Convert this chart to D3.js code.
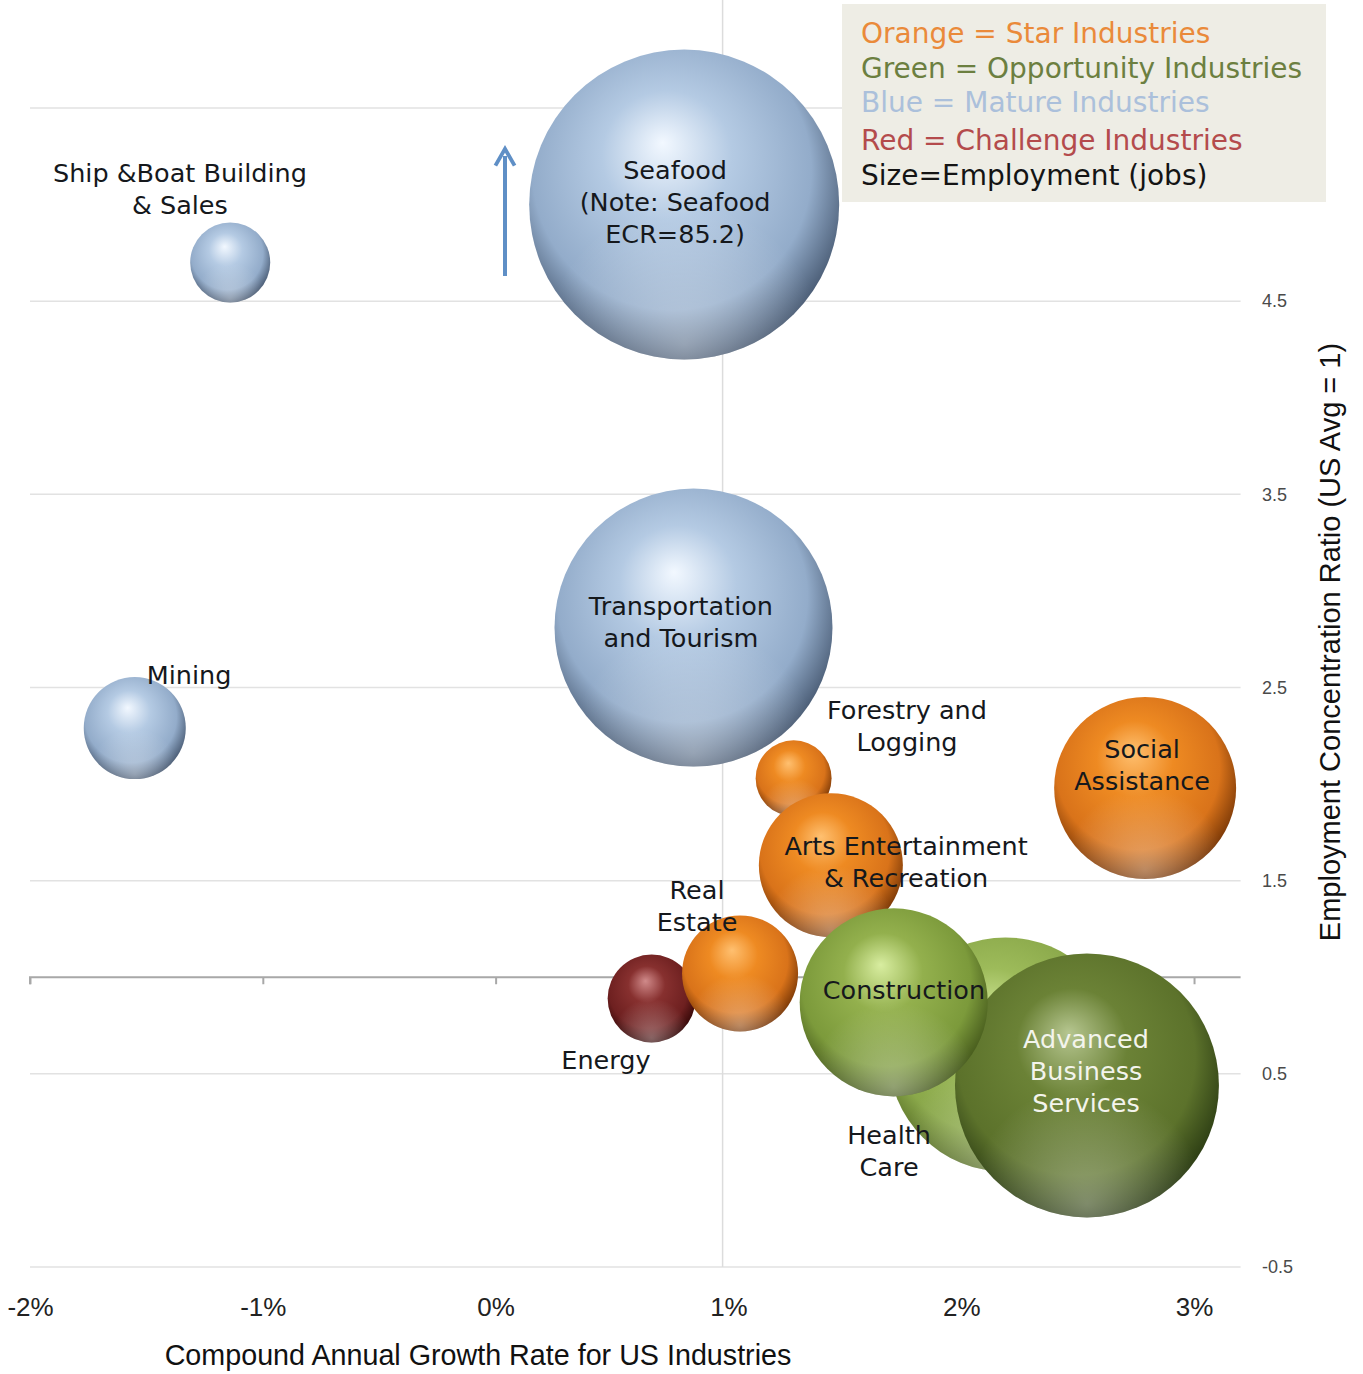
<!DOCTYPE html>
<html>
<head>
<meta charset="utf-8">
<script src="https://cdn.jsdelivr.net/npm/d3@7"></script>
<style>
  html, body { margin: 0; padding: 0; background: #ffffff; }
  svg { display: block; }
</style>
</head>
<body>
<svg id="chart" width="1363" height="1374"></svg>
<script>
// ---------------- DATA ----------------
const industries = ["Seafood", "Ship & Boat Building & Sales", "Mining", "Transportation and Tourism",
  "Forestry and Logging", "Arts Entertainment & Recreation", "Social Assistance", "Energy",
  "Real Estate", "Health Care", "Advanced Business Services", "Construction"];
const growthRate = [0.81, -1.14, -1.55, 0.85, 1.28, 1.44, 2.79, 0.67, 1.05, 2.19, 2.54, 1.71];   // CAGR %
const concentration = [5.0, 4.70, 2.29, 2.81, 2.03, 1.58, 1.98, 0.89, 1.02, 0.60, 0.44, 0.87];   // ECR (shown)
const employment = [24000, 1600, 2600, 19300, 1440, 5180, 8270, 1930, 3360, 13700, 17400, 8830]; // jobs
const group = ["mature", "mature", "mature", "mature", "star", "star", "star", "challenge",
  "star", "opportunityLight", "opportunityDark", "opportunity"];
const labelLines = [
  ["Seafood", "(Note: Seafood", "ECR=85.2)"],
  ["Ship &Boat Building", "& Sales"],
  ["Mining"],
  ["Transportation", "and Tourism"],
  ["Forestry and", "Logging"],
  ["Arts Entertainment", "& Recreation"],
  ["Social", "Assistance"],
  ["Energy"],
  ["Real", "Estate"],
  ["Health", "Care"],
  ["Advanced", "Business", "Services"],
  ["Construction"]
];
// label anchor in data units (x %, y ECR) for the first line's baseline
const labelX = [0.771, -1.356, -1.317, 0.796, 1.767, 1.763, 2.777, 0.474, 0.865, 1.690, 2.536, 1.754];
const labelY = [5.13, 5.117, 2.52, 2.875, 2.337, 1.633, 2.135, 0.525, 1.405, 0.137, 0.634, 0.887];
const labelColor = ["#15181c", "#15181c", "#15181c", "#15181c", "#15181c", "#15181c", "#15181c",
  "#15181c", "#15181c", "#15181c", "#f3f4ec", "#15181c"];

const xTicks = [-2, -1, 0, 1, 2, 3];
const xTickLabels = ["-2%", "-1%", "0%", "1%", "2%", "3%"];
const yTicks = [-0.5, 0.5, 1.5, 2.5, 3.5, 4.5, 5.5];
const yTickLabels = ["-0.5", "0.5", "1.5", "2.5", "3.5", "4.5", "5.5"];
const xAxisCross = 1;       // x axis drawn at ECR = 1
const refLineX = 0.975;     // vertical reference line
const legendLines = ["Orange = Star Industries", "Green = Opportunity Industries",
  "Blue = Mature Industries", "Red = Challenge Industries", "Size=Employment (jobs)"];
const legendColors = ["#ea8a3a", "#6c7f40", "#abc0db", "#b44b4c", "#141414"];
const xTitle = "Compound Annual Growth Rate for US Industries";
const yTitle = "Employment Concentration Ratio (US Avg = 1)";

// ---------------- SCALES ----------------
const svg = d3.select("#chart");
const x = d3.scaleLinear().domain([-2, 3.2]).range([30, 1240.6]);
const y = d3.scaleLinear().domain([-0.5, 5.5]).range([1267, 108]);
const r = d3.scaleSqrt().domain([0, 24000]).range([0, 155]);

// ---------------- GRADIENTS ----------------
const palettes = {
  mature:           ["#f2f8ff", "#b4cae3", "#93acca", "#3f5068"],
  star:             ["#ffc070", "#ee8a22", "#d9731a", "#6e3004"],
  challenge:        ["#d08a8a", "#87302f", "#6e2020", "#2e0505"],
  opportunity:      ["#d8eda0", "#93b04d", "#7c9a3b", "#3f5218"],
  opportunityLight: ["#c8e08e", "#9dbb5a", "#8aa84a", "#4e6420"],
  opportunityDark:  ["#b6c690", "#6b8236", "#5c722b", "#253510"]
};
const defs = svg.append("defs");
Object.entries(palettes).forEach(([k, c]) => {
  const g = defs.append("radialGradient").attr("id", "g-" + k)
    .attr("cx", "0.47").attr("cy", "0.42").attr("r", "0.6")
    .attr("fx", "0.43").attr("fy", "0.30");
  g.append("stop").attr("offset", "0%").attr("stop-color", c[0]);
  g.append("stop").attr("offset", "35%").attr("stop-color", c[1]);
  g.append("stop").attr("offset", "75%").attr("stop-color", c[2]);
  g.append("stop").attr("offset", "100%").attr("stop-color", c[3]);
});
const glow = defs.append("radialGradient").attr("id", "glow")
  .attr("cx", "0.5").attr("cy", "0.95").attr("r", "0.45");
glow.append("stop").attr("offset", "0%").attr("stop-color", "#ffffff").attr("stop-opacity", 0.35);
glow.append("stop").attr("offset", "100%").attr("stop-color", "#ffffff").attr("stop-opacity", 0);
defs.append("marker").attr("id", "arrowHead").attr("viewBox", "0 0 10 10")
  .attr("refX", 5).attr("refY", 5).attr("markerWidth", 6).attr("markerHeight", 6)
  .attr("orient", "auto")
  .append("path").attr("d", "M1,1 L8,5 L1,9").attr("fill", "none")
  .attr("stroke", "#5f8fc6").attr("stroke-width", 1.6);

// ---------------- GRID ----------------
const gridG = svg.append("g");
gridG.selectAll("line.h").data(yTicks).join("line")
  .attr("x1", x(-2)).attr("x2", x(3.2))
  .attr("y1", d => y(d)).attr("y2", d => y(d))
  .attr("stroke", "#e2e2e2").attr("stroke-width", 1.5);
gridG.append("line")
  .attr("x1", x(refLineX)).attr("x2", x(refLineX))
  .attr("y1", 0).attr("y2", y(-0.5))
  .attr("stroke", "#dcdcdc").attr("stroke-width", 1.5);

// x axis at ECR = 1
const xAxis = d3.axisBottom(x).tickValues(xTicks).tickSize(7).tickFormat("");
const axG = svg.append("g").attr("transform", `translate(0,${y(xAxisCross)})`).call(xAxis);
axG.select(".domain").attr("stroke", "#a8a8a8").attr("stroke-width", 2)
  .attr("d", `M${x(-2)},7V0H${x(3.2)}`);
axG.selectAll(".tick line").attr("stroke", "#a8a8a8").attr("stroke-width", 2);

// x tick labels at bottom
const xLab = d3.axisBottom(x).tickValues(xTicks).tickSize(0)
  .tickFormat((d, i) => xTickLabels[i]);
const xl = svg.append("g").attr("transform", "translate(0,1295)").call(xLab);
xl.select(".domain").remove();
xl.selectAll("text").attr("font-family", "'Liberation Sans Narrow', 'Arial Narrow', sans-serif")
  .attr("font-size", 26).attr("fill", "#222");

// y tick labels on right
const yLab = d3.axisRight(y).tickValues(yTicks).tickSize(0)
  .tickFormat((d, i) => yTickLabels[i]);
const yl = svg.append("g").attr("transform", "translate(1262,0)").call(yLab);
yl.select(".domain").remove();
yl.selectAll("text").attr("font-family", "'Liberation Sans', Arial, sans-serif")
  .attr("font-size", 18).attr("fill", "#4a4a4a").attr("x", 0);

// ---------------- ARROW ----------------
svg.append("line")
  .attr("x1", 505).attr("x2", 505).attr("y1", 276).attr("y2", 156)
  .attr("stroke", "#5f8fc6").attr("stroke-width", 4)
  .attr("marker-end", "url(#arrowHead)");

// ---------------- BUBBLES ----------------
const data = industries.map((n, i) => ({
  name: n, gx: growthRate[i], ecr: concentration[i], emp: employment[i], grp: group[i],
  lines: labelLines[i], lx: labelX[i], ly: labelY[i], lc: labelColor[i]
}));
const bub = svg.append("g");
const nodes = bub.selectAll("g").data(data).join("g");
nodes.append("circle")
  .attr("cx", d => x(d.gx)).attr("cy", d => y(d.ecr)).attr("r", d => r(d.emp))
  .attr("fill", d => `url(#g-${d.grp})`);
nodes.append("circle")
  .attr("cx", d => x(d.gx)).attr("cy", d => y(d.ecr)).attr("r", d => r(d.emp))
  .attr("fill", "url(#glow)");

// ---------------- LABELS ----------------
const labG = svg.append("g");
data.forEach(d => {
  const t = labG.append("text")
    .attr("text-anchor", "middle")
    .attr("font-family", "'DejaVu Sans', Verdana, sans-serif")
    .attr("font-size", 25.5)
    .attr("fill", d.lc);
  d.lines.forEach((ln, k) => {
    t.append("tspan").attr("x", x(d.lx)).attr("y", y(d.ly) + k * 32).text(ln);
  });
});

// ---------------- LEGEND ----------------
const lg = svg.append("g");
lg.append("rect").attr("x", 842).attr("y", 4).attr("width", 484).attr("height", 198)
  .attr("fill", "#eeede5");
lg.selectAll("text").data(legendLines).join("text")
  .attr("x", 861)
  .attr("y", (d, i) => [43, 78, 112, 150, 185][i])
  .attr("font-family", "'DejaVu Sans', Verdana, sans-serif")
  .attr("font-size", 28)
  .attr("fill", (d, i) => legendColors[i])
  .text(d => d);

// ---------------- AXIS TITLES ----------------
svg.append("text").attr("x", 478).attr("y", 1365).attr("text-anchor", "middle")
  .attr("font-family", "'Liberation Sans Narrow', 'Arial Narrow', sans-serif")
  .attr("font-size", 28.7).attr("fill", "#111").text(xTitle);
svg.append("text").attr("transform", "translate(1340,642) rotate(-90)")
  .attr("text-anchor", "middle")
  .attr("font-family", "'Liberation Sans Narrow', 'Arial Narrow', sans-serif")
  .attr("font-size", 29).attr("fill", "#111").text(yTitle);
</script>
</body>
</html>
